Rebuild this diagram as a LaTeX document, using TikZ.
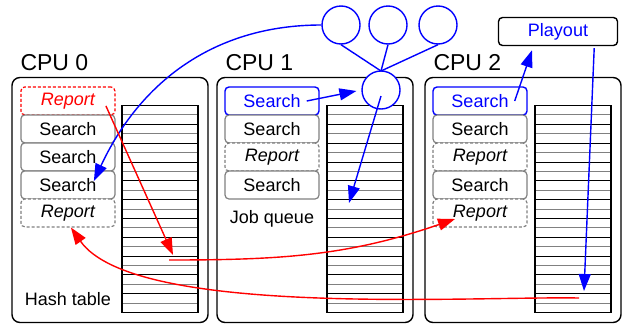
\documentclass[tikz,border=0pt]{standalone}
\usepackage{fontspec}
\setmainfont{Liberation Sans}
\usetikzlibrary{positioning, arrows.meta}

\tikzset{
  cpu/.style={draw, rounded corners=8pt, line width=1.4pt, minimum width=196pt, minimum height=245pt, inner sep=0pt},
  cpulabel/.style={anchor=base west, inner sep=0pt, xshift=9pt, yshift=6pt, font=\fontsize{23}{26}\selectfont},
  job/.style={draw=gray, fill=white, rounded corners=4pt, line width=1.2pt, minimum width=94pt, minimum height=28pt, inner sep=0pt, font=\fontsize{18}{20}\selectfont},
  report/.style={job, dash pattern=on 3pt off 2pt, font=\fontsize{18}{20}\selectfont\itshape},
  active/.style={draw=blue, text=blue, line width=1.4pt},
  sent/.style={draw=red, text=red},
  annot/.style={inner sep=0pt, font=\fontsize{18}{20}\selectfont},
  hashtab/.style={draw, line width=1.4pt, minimum width=76pt, minimum height=207pt, inner sep=0pt,
    path picture={
      \foreach \i in {1,3,...,21}
        \draw[gray, line width=1pt] ([yshift=-\i*9.41pt]path picture bounding box.north west) -- ([yshift=-\i*9.41pt]path picture bounding box.north east);
      \foreach \i in {2,4,...,20}
        \draw[black, line width=0.9pt] ([yshift=-\i*9.41pt]path picture bounding box.north west) -- ([yshift=-\i*9.41pt]path picture bounding box.north east);
    }},
  treenode/.style={circle, draw=blue, fill=white, line width=1.4pt, minimum size=38pt, inner sep=0pt},
  box/.style={draw, fill=white, rounded corners=4pt, line width=1.4pt, minimum width=119pt, minimum height=28pt, inner sep=0pt, text=blue, font=\fontsize{18}{20}\selectfont},
  arrow/.style={-{Triangle[length=17pt, width=12pt]}, line width=1.4pt}
}

\begin{document}
\begin{tikzpicture}[x=1pt, y=1pt, node distance=28pt, on grid]
    \useasboundingbox (0,0) rectangle (631,-327);

    % processors
    \node[cpu, label={[cpulabel]north west:CPU 0}] (cpu0) at (110,-200) {};
    \node[cpu, label={[cpulabel]north west:CPU 1}] (cpu1) at (315,-200) {};
    \node[cpu, label={[cpulabel]north west:CPU 2}] (cpu2) at (523,-200) {};

    % hash tables
    \node[hashtab] (h0) [below right=9pt and 50pt of cpu0] {};
    \node[hashtab] (h1) [below right=9pt and 50pt of cpu1] {};
    \node[hashtab] (h2) [below right=9pt and 50pt of cpu2] {};

    % job queues
    \node[report, sent] (q0a) [below right=9.5pt and 9pt of cpu0.north west] {Report};
    \node[job] (q0b) [below=of q0a] {Search};
    \node[job] (q0c) [below=of q0b] {Search};
    \node[job] (q0d) [below=of q0c] {Search};
    \node[report] (q0e) [below=of q0d] {Report};
    \node[annot] (ht) [below=86.5pt of q0e] {Hash table};

    \node[job, active] (q1a) [below right=9.5pt and 8pt of cpu1.north west] {Search};
    \node[job] (q1b) [below=of q1a] {Search};
    \node[report] (q1c) [below=of q1b] {Report};
    \node[job] (q1d) [below=of q1c] {Search};
    \node[annot] (jq) [below=34pt of q1d] {Job queue};

    \node[job, active] (q2a) [below right=9.5pt and 8pt of cpu2.north west] {Search};
    \node[job] (q2b) [below=of q2a] {Search};
    \node[report] (q2c) [below=of q2b] {Report};
    \node[job] (q2d) [below=of q2c] {Search};
    \node[report] (q2e) [below=of q2d] {Report};

    % search tree
    \node[treenode] (t2) at (388,-25) {};
    \node[treenode] (t1) [left=47pt of t2] {};
    \node[treenode] (t3) [right=50pt of t2] {};
    \path[blue, line width=1.4pt]
        (t1.south) edge (381,-71)
        (t2.south) edge (381,-71)
        (t3.south) edge (381,-71);
    \node[treenode] (root) at (381,-90) {};

    \node[box] (playout) at (558,-31.5) {Playout};

    \path[arrow, blue]
        (t1.west) edge[out=180, in=65] ([xshift=26pt, yshift=4pt]q0d.center)
        ([xshift=-13pt]q1a.east) edge[shorten >=5pt] (root.west)
        ([yshift=-6pt]root.center) edge ([xshift=-16pt, yshift=6pt]h1.center)
        ([xshift=-13pt]q2a.east) edge ([xshift=-26pt, yshift=-4pt]playout.south)
        ([xshift=-24pt, yshift=-2pt]playout.south east) edge ([xshift=11pt, yshift=-82pt]h2.center);

    \path[arrow, red]
        ([xshift=38pt, yshift=-5pt]q0a.center) edge ([xshift=13pt, yshift=-46pt]h0.center)
        ([xshift=9pt, yshift=-51pt]h0.center) edge[out=0, in=199] ([xshift=-25pt, yshift=-6pt]q2e.center)
        ([xshift=6pt, yshift=-89pt]h2.center) edge[out=179, in=-55, looseness=0.55] ([xshift=3pt]q0e.south);
\end{tikzpicture}
\end{document}
